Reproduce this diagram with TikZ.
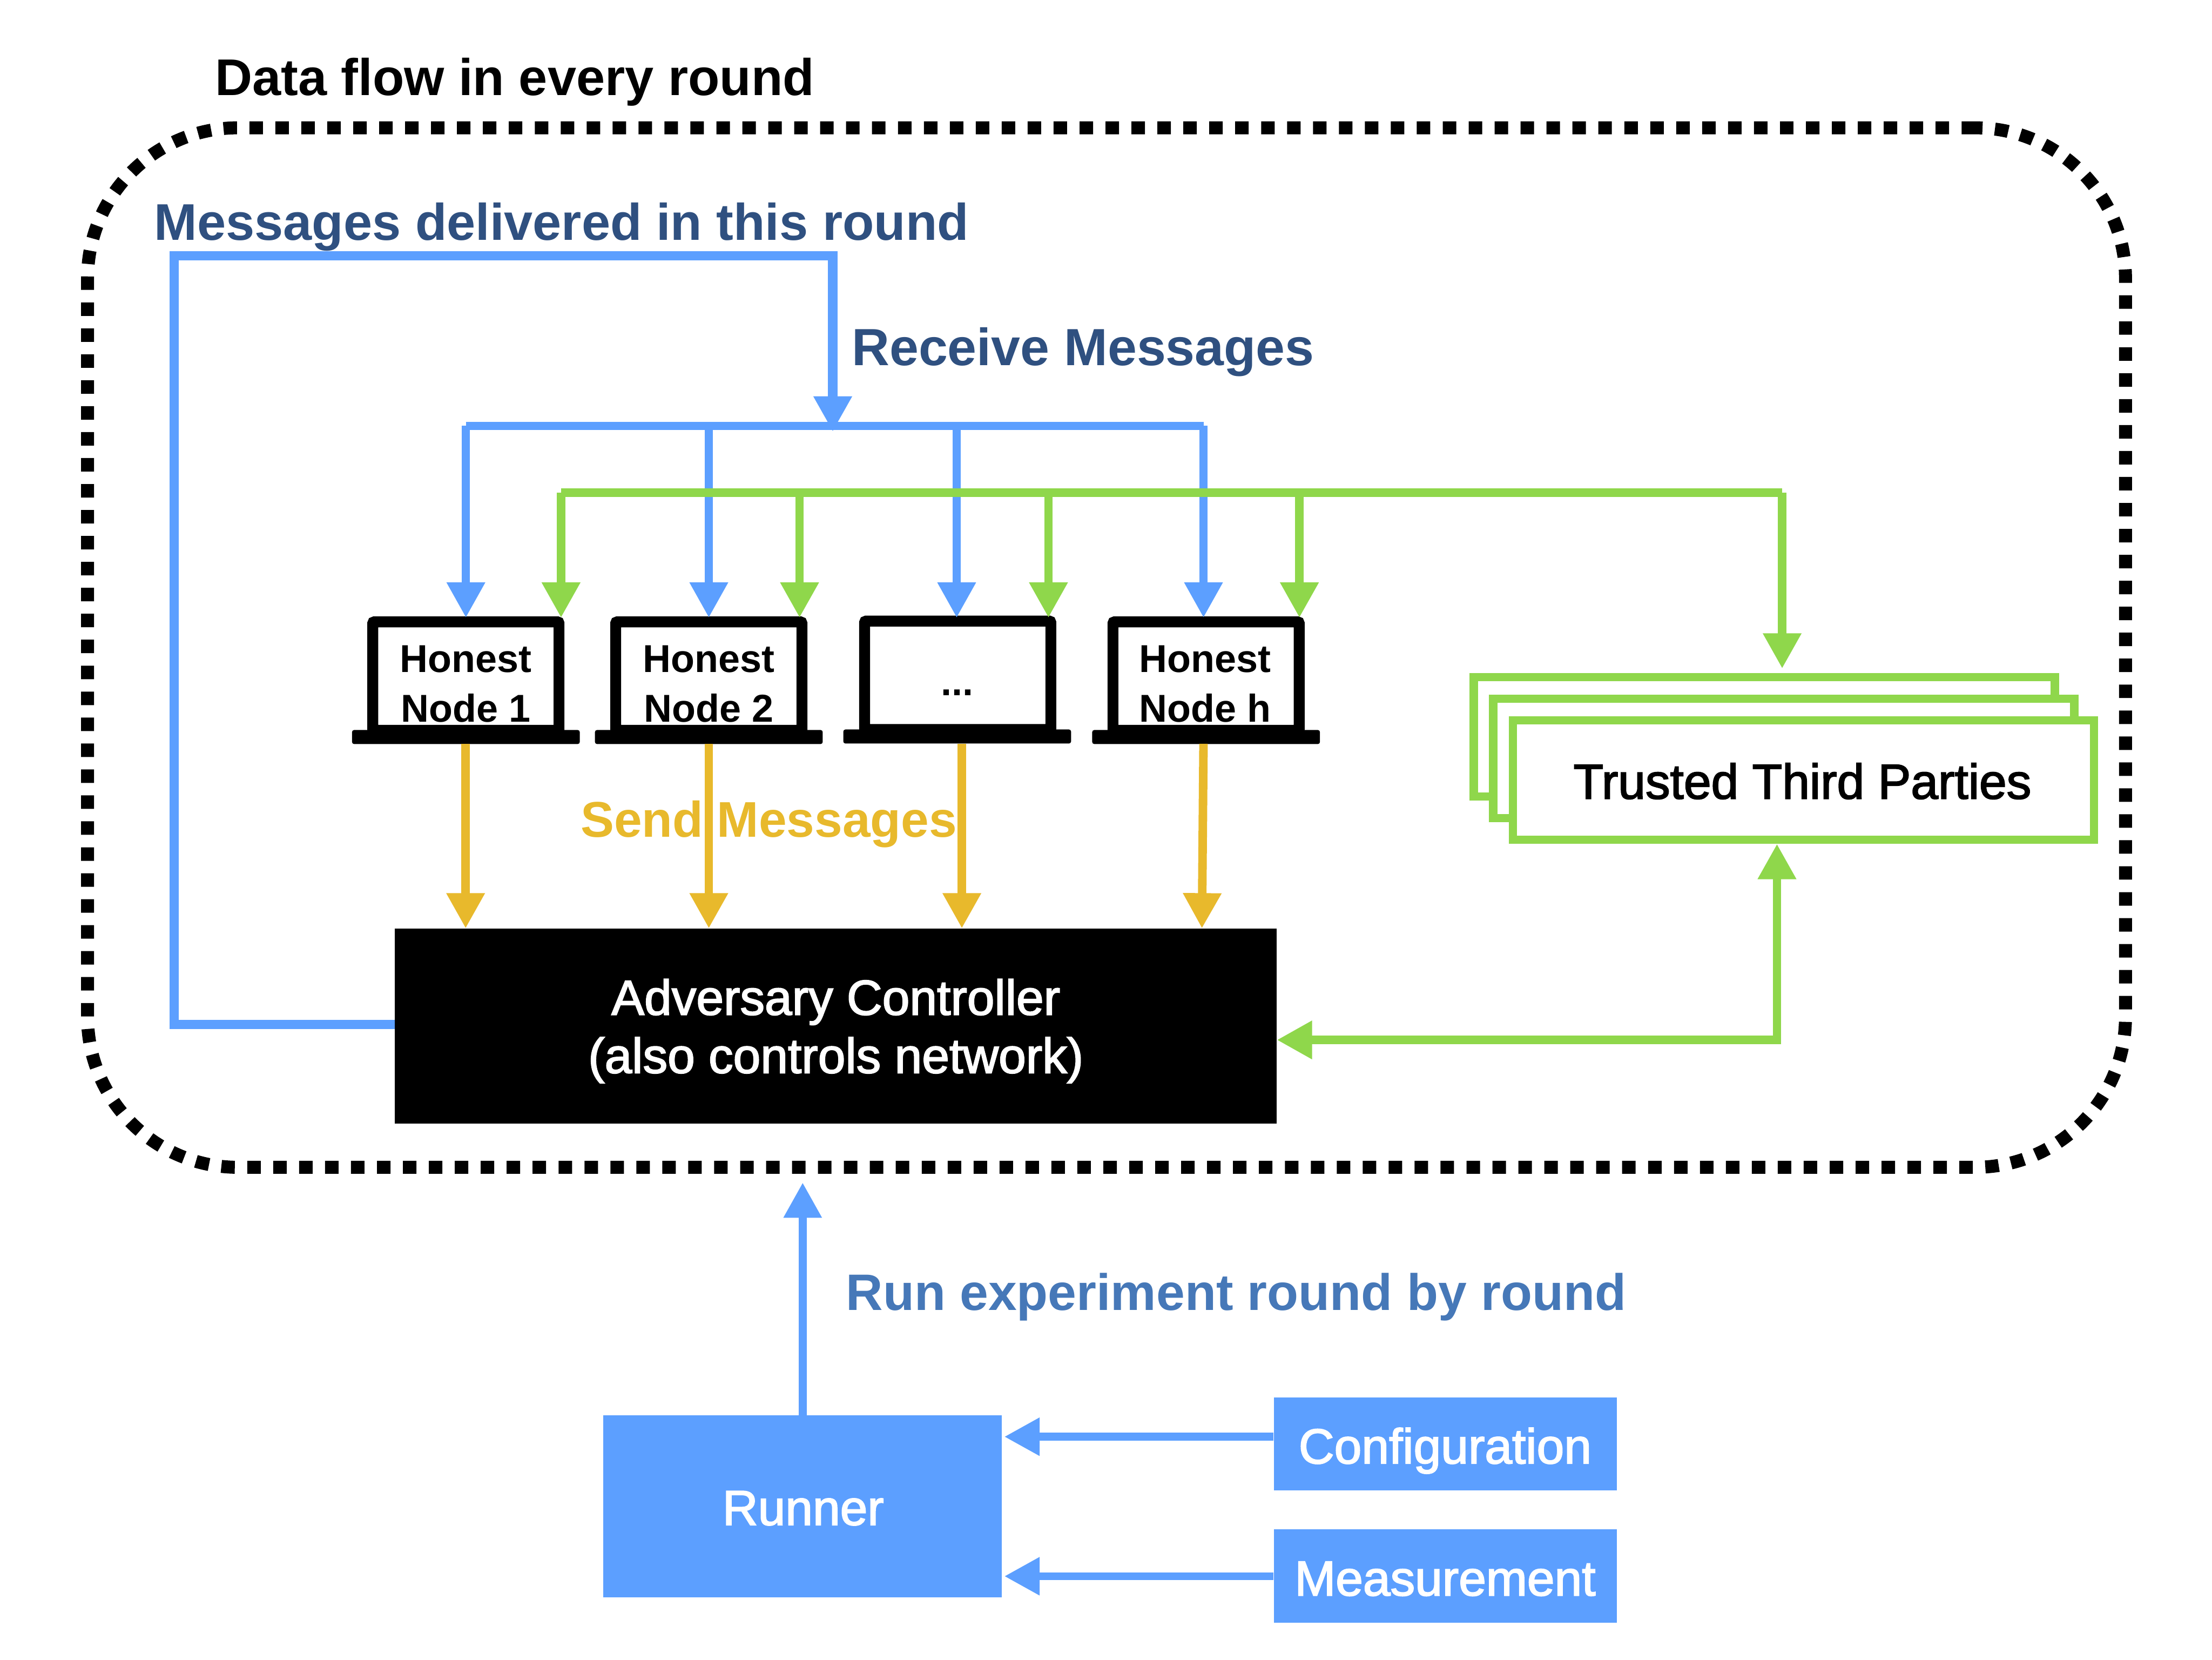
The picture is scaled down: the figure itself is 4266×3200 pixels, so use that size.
\documentclass[tikz,border=0pt]{standalone}
\usepackage{fontspec}
\setmainfont{Liberation Sans}
\newfontfamily\medfont[FakeBold=2.2]{Liberation Sans}
\usetikzlibrary{arrows.meta}
\definecolor{cblue}{HTML}{5C9FFF}
\definecolor{cgreen}{HTML}{8FD74B}
\definecolor{cyellow}{HTML}{E8B92C}
\definecolor{cnavy}{HTML}{2F5080}
\definecolor{crun}{HTML}{4678B8}
\tikzset{
  x=0.01cm,y=-0.01cm,
  tipdown/.style={-{Triangle[length=0.68cm,width=0.70cm]}},
  bluewire/.style={draw=cblue,line width=0.16cm},
  greenwire/.style={draw=cgreen,line width=0.165cm},
  yellowwire/.style={draw=cyellow,line width=0.165cm,tipdown},
  screenbox/.style={draw=black,fill=white,line width=0.21cm,rounded corners=0.03cm,inner sep=0pt,
    minimum width=3.59cm,minimum height=2.09cm},
  screentext/.style={inner sep=0pt,align=center,font=\bfseries\fontsize{21.3}{27.3}\selectfont},
  laptopbase/.style={fill=black,inner sep=0pt,rounded corners=0.04cm,minimum width=4.39cm,minimum height=0.27cm},
  ttpbox/.style={draw=cgreen,fill=white,line width=0.16cm,inner sep=0pt,minimum width=11.2cm,minimum height=2.3cm},
  headlabel/.style={anchor=base west,inner sep=0pt,font=\bfseries\fontsize{28.3}{34}\selectfont},
  bluebox/.style={fill=cblue,inner sep=0pt},
  boxtext/.style={text=white,inner sep=0pt,align=center,font=\medfont\fontsize{27}{31.9}\selectfont},
}
\begin{document}
\begin{tikzpicture}
\useasboundingbox (0,0) rectangle (4266,3200);
% frame
\node[draw=black,line width=0.25cm,rounded corners=2.9cm,dash pattern=on 0.26cm off 0.24cm,
  minimum width=39.28cm,minimum height=20.03cm,inner sep=0pt] (frame) at (2134,1248.5) {};
% labels
\node[headlabel] (title) at (414,184) {Data flow in every round};
\node[headlabel,text=cnavy] (delivered) at (297,463) {Messages delivered in this round};
\node[headlabel,text=cnavy,font=\bfseries\fontsize{28.7}{33}\selectfont] (receive) at (1642,705) {Receive Messages};
\node[headlabel,text=cyellow,font=\bfseries\fontsize{27.5}{33}\selectfont] (send) at (1119,1614) {Send Messages};
\node[headlabel,text=crun,font=\bfseries\fontsize{28.1}{33}\selectfont] (run) at (1631,2526) {Run experiment round by round};
% main boxes
\node[fill=black,inner sep=0pt,outer sep=0pt,minimum width=17cm,minimum height=3.76cm] (adv) at (1612,1978) {};
\node[boxtext] (advtext) at (1612,1988) {Adversary Controller\\(also controls network)};
\node[ttpbox] (ttpa) at (3402.5,1420.5) {};
\node[ttpbox] (ttpb) at (3440,1462) {};
\node[ttpbox] (ttpc) at (3478,1504) {};
\node[boxtext,text=black] (ttptext) at (3476,1506) {Trusted Third Parties};
\node[bluebox,minimum width=7.68cm,minimum height=3.51cm] (runner) at (1548,2904.5) {};
\node[boxtext] (runnertext) at (1549,2908) {Runner};
\node[bluebox,minimum width=6.61cm,minimum height=1.79cm] (config) at (2787.5,2783.5) {};
\node[boxtext] (configtext) at (2787,2797) {Configuration};
\node[bluebox,minimum width=6.61cm,minimum height=1.80cm] (measure) at (2787.5,3039) {};
\node[boxtext] (measuretext) at (2787,3044) {Measurement};
% laptops
\node[screenbox] (n1) at (898.5,1303.5) {};
\node[laptopbase] (b1) at (898.5,1421) {};
\node[screentext] (t1) at (898,1319) {Honest\\Node 1};
\node[screenbox] (n2) at (1367,1303.5) {};
\node[laptopbase] (b2) at (1367,1421) {};
\node[screentext] (t2) at (1367,1319) {Honest\\Node 2};
\node[screenbox] (n3) at (1847,1302) {};
\node[laptopbase] (b3) at (1846,1420) {};
\node[screentext] (t3) at (1846,1335) {...};
\node[screenbox] (n4) at (2326,1303.5) {};
\node[laptopbase] (b4) at (2326,1421) {};
\node[screentext] (t4) at (2324,1319) {Honest\\Node h};
% junctions
\coordinate (loopa) at (336,1975);
\coordinate (loopb) at (336,493);
\coordinate (loopc) at (1606,493);
\coordinate (hub) at (1606,832);
\coordinate (bl) at (898.5,821);
\coordinate (br) at (2321,821);
\coordinate (bm) at (1367,821);
\coordinate (bn) at (1845,821);
\coordinate (tb1) at (898.5,1191);
\coordinate (tb2) at (1367,1191);
\coordinate (tb3) at (1845,1191);
\coordinate (tb4) at (2321,1191);
\coordinate (gl) at (1082,950);
\coordinate (gr) at (3437,950);
\coordinate (g2) at (1542,950);
\coordinate (g3) at (2022,950);
\coordinate (g4) at (2506,950);
\coordinate (tg1) at (1082,1191);
\coordinate (tg2) at (1542,1191);
\coordinate (tg3) at (2022,1191);
\coordinate (tg4) at (2506,1191);
\coordinate (tgr) at (3437,1289);
\coordinate (ga) at (3427,2005);
\coordinate (gt) at (3427,1627);
\coordinate (ya1) at (898,1434);
\coordinate (ya2) at (1367,1434);
\coordinate (ya3) at (1855,1434);
\coordinate (ya4) at (2321,1434);
\coordinate (yb1) at (898,1790);
\coordinate (yb2) at (1367,1790);
\coordinate (yb3) at (1855,1790);
\coordinate (yb4) at (2318,1790);
\coordinate (frameIn) at (1548,2280);
\coordinate (rc) at (1937,2770);
\coordinate (rm) at (1937,3039);
% blue wires
\draw[bluewire,line width=0.18cm,line join=miter,tipdown] (adv.west |- loopa) -- (loopa) -- (loopb) -- (loopc) -- (hub);
\draw[bluewire,line join=miter] (bl) -- (br);
\draw[bluewire,tipdown] (bl) -- (tb1);
\draw[bluewire,tipdown] (bm) -- (tb2);
\draw[bluewire,tipdown] (bn) -- (tb3);
\draw[bluewire,tipdown] (br) -- (tb4);
% green wires
\draw[greenwire] (gl) -- (gr);
\draw[greenwire,tipdown] (gl) -- (tg1);
\draw[greenwire,tipdown] (g2) -- (tg2);
\draw[greenwire,tipdown] (g3) -- (tg3);
\draw[greenwire,tipdown] (g4) -- (tg4);
\draw[greenwire,tipdown] (gr) -- (tgr);
\draw[greenwire,line join=miter,{Triangle[length=0.68cm,width=0.70cm]}-{Triangle[length=0.68cm,width=0.70cm]}] (adv.east |- ga) -- (ga) -- (gt);
% yellow wires
\draw[yellowwire] (ya1) -- (yb1);
\draw[yellowwire] (ya2) -- (yb2);
\draw[yellowwire] (ya3) -- (yb3);
\draw[yellowwire] (ya4) -- (yb4);
% runner wires
\draw[draw=cblue,line width=0.16cm,tipdown] (runner.north) -- (frameIn);
\draw[draw=cblue,line width=0.15cm,tipdown] (config.west |- rc) -- (rc);
\draw[draw=cblue,line width=0.15cm,tipdown] (measure.west |- rm) -- (rm);
\end{tikzpicture}
\end{document}
